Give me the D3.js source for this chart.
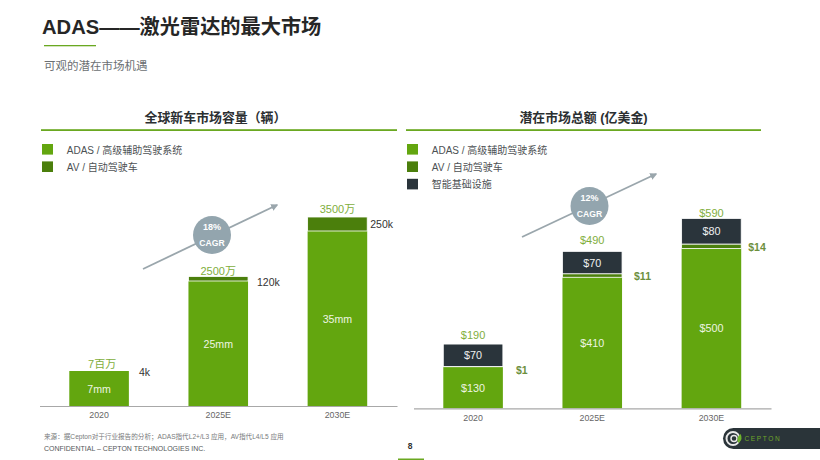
<!DOCTYPE html>
<html lang="zh">
<head>
<meta charset="utf-8">
<script src="https://cdn.jsdelivr.net/npm/d3@7"></script>
<style>
  html, body { margin: 0; padding: 0; background: #fff; }
  svg { display: block; font-family: "Liberation Sans", "Noto Sans CJK SC", sans-serif; }
  .axis path { stroke: #a8a8a8; stroke-width: 1.2; }
  .axis text { font-size: 8.8px; fill: #666; font-family: "Liberation Sans", sans-serif; }
</style>
</head>
<body>
<svg id="slide" width="820" height="460" viewBox="0 0 820 460"></svg>
<script>
// values
const years = ["2020", "2025E", "2030E"];

// left chart: vehicles, million units
const volAdas = [7, 25, 35];
// AV slices are not to scale on the slide, this is the height as drawn
const volAvDrawn = [0, 0.9, 2.8];
const volTotalLabels = ["7百万", "2500万", "3500万"];
const volAdasLabels = ["7mm", "25mm", "35mm"];
const volAvLabels = ["4k", "120k", "250k"];

// right chart: market size
const tamAdas = [130, 410, 500];
const tamAv = [1, 11, 14];
const tamInfra = [70, 70, 80];
const tamTotalLabels = ["$190", "$490", "$590"];

const GREEN = "#63a60f", DARK_GREEN = "#4b7f0c", INK = "#2a343b";
const LABEL_GREEN = "#7fae3c", LINE_GREEN = "#6aa821", BADGE = "#93a5ae", ARROW = "#9aa6ac";

const svg = d3.select("#slide");
const text = (x, y, str, size, fill, opts = {}) => svg.append("text")
  .attr("x", x).attr("y", y).attr("font-size", size).attr("fill", fill)
  .attr("text-anchor", opts.anchor || "start")
  .attr("font-weight", opts.weight || 400)
  .attr("dominant-baseline", "central")
  .text(str);

svg.append("defs").append("marker").attr("id", "tip")
  .attr("viewBox", "0 0 10 10").attr("refX", 8).attr("refY", 5)
  .attr("markerWidth", 4).attr("markerHeight", 4).attr("orient", "auto")
  .append("path").attr("d", "M0,0L10,5L0,10Z").attr("fill", ARROW);

// header
text(42, 26.5, "ADAS——激光雷达的最大市场", 20.2, "#262626", { weight: 700 });
svg.append("rect").attr("x", 44).attr("y", 45).attr("width", 52).attr("height", 1.3).attr("fill", LINE_GREEN);
text(44, 65.5, "可观的潜在市场机遇", 11.5, "#6b6f72");

function panelHead(title, cx, size, x0, x1, legend, legendX) {
  text(cx, 117, title, size, "#2b2f31", { anchor: "middle", weight: 700 });
  svg.append("rect").attr("x", x0).attr("y", 129.2).attr("width", x1 - x0).attr("height", 1.8).attr("fill", LINE_GREEN);
  legend.forEach((d, i) => {
    const y = 144 + i * 17.4;
    svg.append("rect").attr("x", legendX).attr("y", y).attr("width", 11).attr("height", 10.6).attr("fill", d[1]);
    text(legendX + 24.8, y + 6, d[0], 10, "#4d5154");
  });
}

function trend(x1, y1, x2, y2, cx, cy, pct) {
  svg.append("line").attr("x1", x1).attr("y1", y1).attr("x2", x2).attr("y2", y2)
    .attr("stroke", ARROW).attr("stroke-width", 1.8).attr("marker-end", "url(#tip)");
  svg.append("circle").attr("cx", cx).attr("cy", cy).attr("r", 19).attr("fill", BADGE);
  text(cx, cy - 8.5, pct, 9, "#fff", { anchor: "middle", weight: 700 });
  text(cx, cy + 7.5, "CAGR", 8.6, "#fff", { anchor: "middle", weight: 700 });
}

function drawAxis(x, baseY) {
  return svg.append("g").attr("class", "axis").attr("transform", `translate(0,${baseY})`)
    .call(d3.axisBottom(x).tickSize(0).tickPadding(6));
}

function drawBars(x, y, layers) {
  // each layer: { values, fill }, stacked from the first one up
  const stack = d3.stack().keys(layers.map((_, i) => i))
    .value((d, k) => layers[k].values[d])(d3.range(years.length));
  stack.forEach((series, k) => {
    svg.append("g").selectAll("rect").data(series.filter(d => d[1] > d[0])).enter().append("rect")
      .attr("x", d => x(years[d.data]))
      .attr("width", x.bandwidth())
      .attr("y", d => y(d[1]))
      .attr("height", d => y(d[0]) - y(d[1]))
      .attr("fill", layers[k].fill)
      .attr("stroke", "#fff").attr("stroke-width", k ? 0.8 : 0);
  });
}

// left panel
panelHead("全球新车市场容量（辆）", 215.5, 12.9, 41, 397, [
  ["ADAS / 高级辅助驾驶系统", GREEN], ["AV / 自动驾驶车", DARK_GREEN],
], 42);

const xVol = d3.scaleBand().domain(years).range([39.5, 397]).paddingInner(0.5).paddingOuter(0.25);
const yVol = d3.scaleLinear().domain([0, 35]).range([406, 231]);
trend(143, 269, 277, 205, 212, 235, "18%");
drawBars(xVol, yVol, [{ values: volAdas, fill: GREEN }, { values: volAvDrawn, fill: DARK_GREEN }]);
drawAxis(xVol, 406);

const volTotalDx = [3, 0, 0];
const volTotalDy = [-7, -5.5, -8];
const volSideDx = [10, 9, 3];
const volSideDy = [1, 5, 7];
years.forEach((yr, i) => {
  const cx = xVol(yr) + xVol.bandwidth() / 2;
  const top = yVol(volAdas[i] + volAvDrawn[i]);
  text(cx, yVol(volAdas[i] / 2), volAdasLabels[i], 10.6, "#eef5e2", { anchor: "middle" });
  text(cx + volTotalDx[i], top + volTotalDy[i], volTotalLabels[i], 11, LABEL_GREEN, { anchor: "middle" });
  text(xVol(yr) + xVol.bandwidth() + volSideDx[i], top + volSideDy[i], volAvLabels[i], 10.5, "#333");
});

// right panel
panelHead("潜在市场总额 (亿美金)", 583.5, 12.9, 406, 761, [
  ["ADAS / 高级辅助驾驶系统", GREEN], ["AV / 自动驾驶车", DARK_GREEN], ["智能基础设施", INK],
], 407);

const xTam = d3.scaleBand().domain(years).range([413.5, 771]).paddingInner(0.5).paddingOuter(0.25);
const yTam = d3.scaleLinear().domain([0, 500]).range([408.3, 248.5]);
trend(522, 237, 656, 174, 589.5, 206, "12%");
drawBars(xTam, yTam, [
  { values: tamAdas, fill: GREEN }, { values: tamAv, fill: DARK_GREEN }, { values: tamInfra, fill: INK },
]);
drawAxis(xTam, 408.3);

const tamTotalDy = [-9, -11, -5.5];
const tamSideDx = [13, 12, 7];
const tamSideDy = [3.5, 2, 3];
years.forEach((yr, i) => {
  const cx = xTam(yr) + xTam.bandwidth() / 2;
  const adasTop = yTam(tamAdas[i]);
  const avTop = yTam(tamAdas[i] + tamAv[i]);
  const top = yTam(tamAdas[i] + tamAv[i] + tamInfra[i]);
  text(cx, (yTam(0) + adasTop) / 2, "$" + tamAdas[i], 10.8, "#eef5e2", { anchor: "middle" });
  text(cx, (avTop + top) / 2, "$" + tamInfra[i], 10.8, "#eef0f0", { anchor: "middle" });
  text(cx, top + tamTotalDy[i], tamTotalLabels[i], 11, LABEL_GREEN, { anchor: "middle" });
  text(xTam(yr) + xTam.bandwidth() + tamSideDx[i], avTop + tamSideDy[i], "$" + tamAv[i], 10.5, "#6d8f3d", { weight: 700 });
});

// footer
text(44, 436.5, "来源：据Cepton对于行业报告的分析；ADAS指代L2+/L3 应用，AV指代L4/L5 应用", 6.6, "#77797b");
text(44, 448.5, "CONFIDENTIAL – CEPTON TECHNOLOGIES INC.", 7, "#55585a");
text(410, 445.5, "8", 8.5, "#333", { anchor: "middle", weight: 700 });
svg.append("rect").attr("x", 398).attr("y", 458.5).attr("width", 26).attr("height", 1.5).attr("fill", LINE_GREEN);

// logo pill
svg.append("path").attr("d", "M820,428H733.5a10.5,10.5 0 0 0 0,21H820Z").attr("fill", "#2a3439");
svg.append("circle").attr("cx", 733).attr("cy", 438.5).attr("r", 6.5).attr("fill", "none").attr("stroke", "#e8e8e8").attr("stroke-width", 2);
svg.append("circle").attr("cx", 734).attr("cy", 438.5).attr("r", 3).attr("fill", "none").attr("stroke", "#e8e8e8").attr("stroke-width", 1.5);
svg.append("path").attr("d", "M738.5,443Q735.5,438 740.5,434Q743.5,439 738.5,443Z").attr("fill", "#6fb52c");
text(744.5, 438.5, "CEPTON", 6.6, "#6fa52a").attr("letter-spacing", 1.6);
</script>
</body>
</html>
